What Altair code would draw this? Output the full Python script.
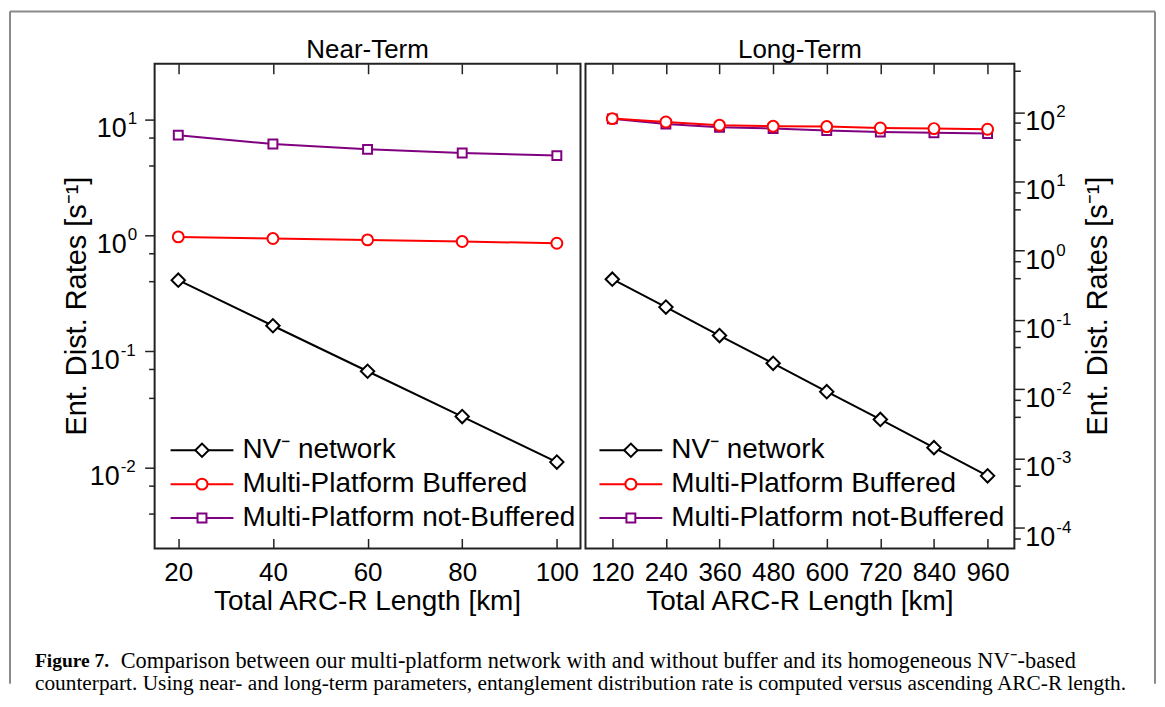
import altair as alt
import pandas as pd

# ---------------- data ----------------
near_x = [20, 40, 60, 80, 100]
near_nv = [0.41, 0.166, 0.0673, 0.0274, 0.0111]
near_buf = [0.967, 0.936, 0.911, 0.882, 0.853]
near_nobuf = [7.28, 6.10, 5.49, 5.10, 4.85]

long_x = [120, 240, 360, 480, 600, 720, 840, 960]
long_nv = [0.387, 0.153, 0.0594, 0.0236, 0.0092, 0.00365, 0.00143, 0.00056]
long_buf = [80.7, 72.1, 64.6, 62.5, 61.9, 59.1, 57.9, 56.6]
long_nobuf = [80.0, 67.5, 60.5, 57.9, 54.2, 51.8, 50.4, 49.1]

series = ["NV\u207b network", "Multi-Platform Buffered", "Multi-Platform not-Buffered"]
colors = ["#000000", "#ff0000", "#800080"]
shapes = ["diamond", "circle", "square"]
sizes = [180, 120, 80]

near_xticks = [20, 40, 60, 80, 100]
long_xticks = [120, 240, 360, 480, 600, 720, 840, 960]
near_ymajor = [0.01, 0.1, 1, 10]
near_yexp = ["-2", "-1", "0", "1"]
near_yminor = [0.004, 0.007, 0.04, 0.07, 0.4, 0.7, 4, 7]
long_ymajor = [1e-4, 1e-3, 1e-2, 1e-1, 1, 10, 100]
long_yexp = ["-4", "-3", "-2", "-1", "0", "1", "2"]
long_yminor = [7e-5, 4e-4, 7e-4, 4e-3, 7e-3, 4e-2, 7e-2, 0.4, 0.7, 4, 7, 40, 70, 400]

panel_titles = ["Near-Term", "Long-Term"]
x_title = "Total ARC-R Length [km]"
y_title = "Ent. Dist. Rates [s\u207b\u00b9]"
caption_bold = "Figure 7."
caption_l1 = "Comparison between our multi-platform network with and without buffer and its homogeneous NV\u207b-based"
caption_l2 = ("counterpart. Using near- and long-term parameters, entanglement distribution rate is "
              "computed versus ascending ARC-R length.")

FONT = "Liberation Sans"
SERIF = "Liberation Serif"
W1, W2, H = 427, 430, 486
FRAME = "#222222"


def dummy():
    return pd.DataFrame({"k": [0]})


def txt(text, x, y, size, font=FONT, **kw):
    return alt.Chart(dummy()).mark_text(text=text, fontSize=size, font=font,
                                        color="black", **kw).encode(
        x=alt.value(x), y=alt.value(y))


def panel(xv, vals, xdom, ydom, xticks, ymajor, yexp, yminor, w, side, title, lx):
    xs = alt.Scale(domain=xdom, nice=False, zero=False)
    ys = alt.Scale(type="log", domain=ydom, nice=False)
    layers = []

    ax_df = pd.DataFrame({"x": [xticks[0]], "y": [ymajor[-1]]})
    common_x = dict(domain=False, grid=False, title=None, tickColor=FRAME, tickWidth=1.5,
                    tickSize=10, offset=-10)
    layers.append(alt.Chart(ax_df).mark_point(opacity=0).encode(
        x=alt.X("x:Q", scale=xs, axis=alt.Axis(
            orient="bottom", values=xticks, labelFont=FONT, labelFontSize=26,
            labelColor="black", labelPadding=11, labelOverlap=False, labelFlush=False,
            **common_x)),
        y=alt.Y("y:Q", scale=ys, axis=alt.Axis(
            orient=side, values=ymajor, labels=False, domain=False, grid=False, title=None,
            tickColor=FRAME, tickWidth=1.5, tickSize=10))))
    layers.append(alt.Chart(ax_df).mark_point(opacity=0).encode(
        x=alt.X("x:Q", scale=xs, axis=alt.Axis(orient="top", values=xticks, labels=False,
                                               **common_x)),
        y=alt.Y("y:Q", scale=ys, axis=alt.Axis(
            orient=side, values=yminor, labels=False, domain=False, grid=False, title=None,
            tickColor=FRAME, tickWidth=1.5, tickSize=6))))

    # data series: draw purple, red, then black
    for i in [2, 1, 0]:
        df = pd.DataFrame({"x": xv, "y": vals[i]})
        layers.append(alt.Chart(df).mark_line(color=colors[i], strokeWidth=2).encode(
            x=alt.X("x:Q", scale=xs, axis=None), y=alt.Y("y:Q", scale=ys, axis=None)))
        layers.append(alt.Chart(df).mark_point(
            shape=shapes[i], size=sizes[i], filled=True, fill="white", stroke=colors[i],
            strokeWidth=2, opacity=1).encode(
            x=alt.X("x:Q", scale=xs, axis=None), y=alt.Y("y:Q", scale=ys, axis=None)))

    # y tick labels (10 with superscript exponent)
    lab = pd.DataFrame({"v": ymajor, "e": yexp})
    neg = lab[lab.e.str.startswith("-")]
    pos = lab[~lab.e.str.startswith("-")]
    if side == "left":
        groups = [(pos, -28), (neg, -35)]
        for g, r in groups:
            layers.append(alt.Chart(g).mark_text(text="10", align="right", dy=10, fontSize=27,
                                                 font=FONT, color="black").encode(
                y=alt.Y("v:Q", scale=ys, axis=None), x=alt.value(r)))
            layers.append(alt.Chart(g).mark_text(align="left", dy=0, fontSize=17,
                                                 font=FONT, color="black").encode(
                y=alt.Y("v:Q", scale=ys, axis=None), x=alt.value(r + 1), text="e:N"))
    else:
        layers.append(alt.Chart(lab).mark_text(text="10", align="left", dy=10, fontSize=27,
                                               font=FONT, color="black").encode(
            y=alt.Y("v:Q", scale=ys, axis=None), x=alt.value(w + 11)))
        layers.append(alt.Chart(lab).mark_text(align="left", dy=0, fontSize=17,
                                               font=FONT, color="black").encode(
            y=alt.Y("v:Q", scale=ys, axis=None), x=alt.value(w + 42), text="e:N"))

    # legend
    rows = [387.5, 421.5, 455.5]
    for i in range(3):
        layers.append(alt.Chart(dummy()).mark_rule(color=colors[i], strokeWidth=2).encode(
            x=alt.value(lx), x2=alt.value(lx + 63), y=alt.value(rows[i])))
        layers.append(alt.Chart(dummy()).mark_point(
            shape=shapes[i], size=sizes[i], filled=True, fill="white", stroke=colors[i],
            strokeWidth=2, opacity=1).encode(x=alt.value(lx + 31.5), y=alt.value(rows[i])))
        layers.append(txt(series[i], lx + 72, rows[i], 28, align="left", baseline="middle"))

    # titles
    layers.append(txt(title, w / 2, -6, 26, align="center", baseline="alphabetic"))
    layers.append(txt(x_title, w / 2, H + 61.5, 28, align="center", baseline="alphabetic"))
    if side == "left":
        layers.append(txt(y_title, -69, H / 2, 29, align="center", baseline="alphabetic",
                          angle=270))
    else:
        layers.append(txt(y_title, w + 93, H / 2, 29, align="center", baseline="alphabetic",
                          angle=270))
    return layers


left_layers = []
# outer page frame (gray) and caption
gray = "#8a8a8a"
left_layers.append(alt.Chart(dummy()).mark_rule(color=gray, strokeWidth=2).encode(
    x=alt.value(-145), y=alt.value(-52.5), y2=alt.value(621.5)))
left_layers.append(alt.Chart(dummy()).mark_rule(color=gray, strokeWidth=2).encode(
    x=alt.value(1003), y=alt.value(-52.5), y2=alt.value(621.5)))
left_layers.append(alt.Chart(dummy()).mark_rule(color=gray, strokeWidth=2).encode(
    x=alt.value(-145), x2=alt.value(1003), y=alt.value(-52.5)))
left_layers.append(txt(caption_bold, -120, 598.5, 19.5, font=SERIF, align="left",
                       fontWeight="bold"))
left_layers.append(txt(caption_l1, -34, 598.5, 22.4, font=SERIF, align="left"))
left_layers.append(txt(caption_l2, -120, 621.5, 21.4, font=SERIF, align="left"))

left_layers += panel(near_x, [near_nv, near_buf, near_nobuf], [15, 105], [0.002, 30],
                     near_xticks, near_ymajor, near_yexp, near_yminor, W1, "left",
                     panel_titles[0], 16)
right_layers = panel(long_x, [long_nv, long_buf, long_nobuf], [60, 1020], [5e-5, 500],
                     long_xticks, long_ymajor, long_yexp, long_yminor, W2, "right",
                     panel_titles[1], 14)

left = alt.layer(*left_layers).resolve_axis(x="independent", y="independent").properties(
    width=W1, height=H)
right = alt.layer(*right_layers).resolve_axis(x="independent", y="independent").properties(
    width=W2, height=H)

chart = alt.hconcat(left, right, spacing=5, bounds="flush").properties(
    padding={"left": 0, "top": 0, "right": 0, "bottom": 0}, background="white"
).configure(padding={"left": 0, "top": 0, "right": 0, "bottom": 0}).configure_view(
    stroke=FRAME, strokeWidth=2)

chart.save("out.html", embed_options={"renderer": "svg", "actions": False})
